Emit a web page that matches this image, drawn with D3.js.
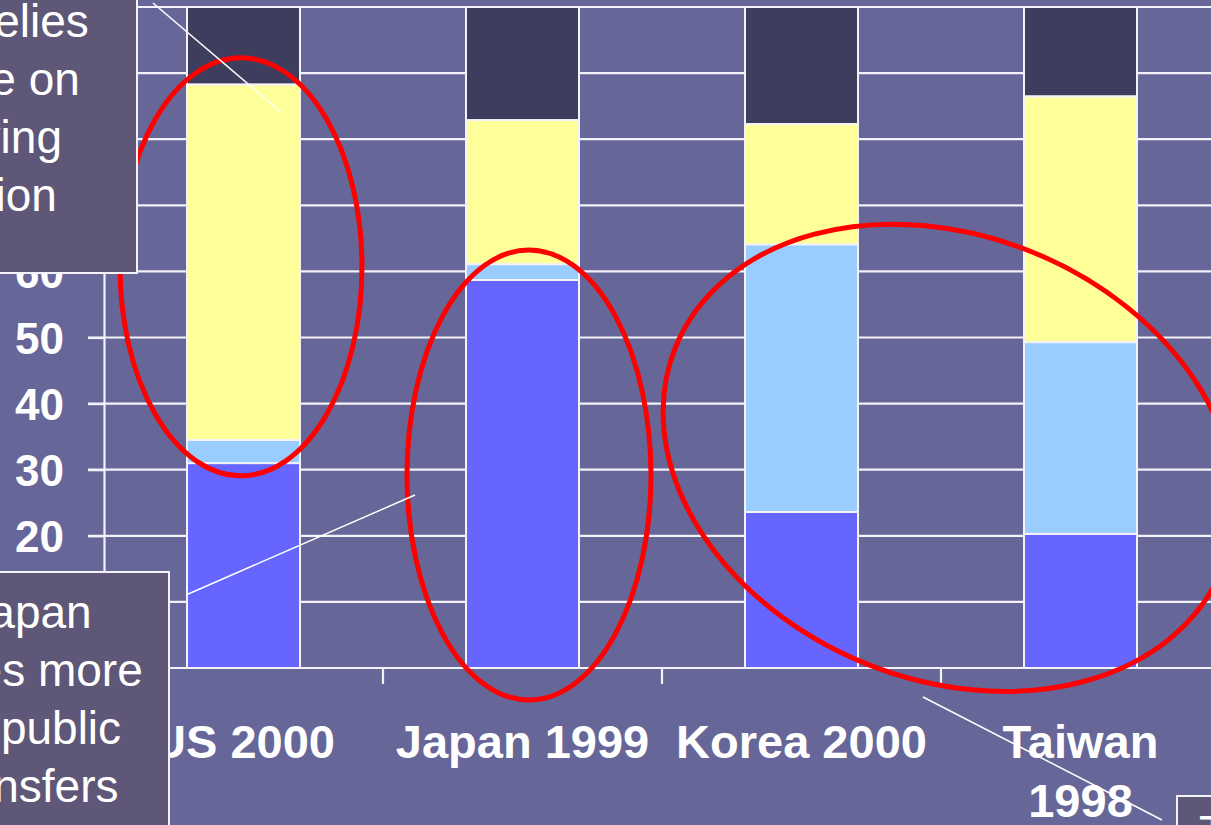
<!DOCTYPE html>
<html>
<head>
<meta charset="utf-8">
<script src="https://cdn.jsdelivr.net/npm/d3@7"></script>
<style>
  html, body { margin: 0; padding: 0; background: #666699; overflow: hidden; }
  svg { display: block; font-family: "Liberation Sans", Arial, sans-serif; }
</style>
</head>
<body>
<svg id="chart" width="1211" height="825"></svg>
<script>
// Share of old-age consumption funded by each source (%)
const categories = ["US 2000", "Japan 1999", "Korea 2000", "Taiwan 1998"];
const categoryLines = [["US 2000"], ["Japan 1999"], ["Korea 2000"], ["Taiwan", "1998"]];
const publicTransfers   = [31.0, 58.7, 23.6, 20.3];
const familyTransfers   = [3.5, 2.4, 40.5, 29.0];
const assetReallocation = [53.8, 21.8, 18.2, 37.2];
const laborIncome       = [11.7, 17.1, 17.7, 13.5];
const yTicks = [0, 10, 20, 30, 40, 50, 60, 70, 80, 90, 100];

const seriesKeys = ["public", "family", "assets", "labor"];
const seriesColors = ["#6666FF", "#99CCFF", "#FFFF99", "#3F3D5E"];

// Callout notes
const noteUS = ["US relies", "more on", "saving", "action"];
const noteJapan = ["Japan", "relies more", "on public", "transfers"];
const noteTaiwan = ["Taiwan"];

const rows = categories.map((c, i) => ({
  category: c,
  public: publicTransfers[i],
  family: familyTransfers[i],
  assets: assetReallocation[i],
  labor: laborIncome[i]
}));

const svg = d3.select("#chart");
const W = 1211, H = 825;
const plotLeft = 104, plotTop = 7, plotBottom = 668, step = 279;

svg.append("rect").attr("width", W).attr("height", H).attr("fill", "#666699");

const x = d3.scaleBand()
  .domain(categories)
  .range([plotLeft, plotLeft + step * categories.length])
  .paddingInner(0.595)
  .paddingOuter(0.2975);
const y = d3.scaleLinear().domain([0, 100]).range([plotBottom, plotTop]);
const color = d3.scaleOrdinal().domain(seriesKeys).range(seriesColors);

const gridColor = "#f2f2f8";

// horizontal gridlines (extend left as tick marks)
svg.append("g").selectAll("line").data(yTicks).join("line")
  .attr("x1", plotLeft - 16).attr("x2", x.range()[1])
  .attr("y1", d => y(d)).attr("y2", d => y(d))
  .attr("stroke", gridColor).attr("stroke-width", 2.2);

// stacked bars
const stacked = d3.stack().keys(seriesKeys)(rows);
svg.append("g").selectAll("g").data(stacked).join("g")
  .attr("fill", d => color(d.key))
  .selectAll("rect").data(d => d).join("rect")
  .attr("x", d => x(d.data.category))
  .attr("width", x.bandwidth())
  .attr("y", d => y(d[1]))
  .attr("height", d => y(d[0]) - y(d[1]))
  .attr("stroke", gridColor).attr("stroke-width", 2);

// y axis
const yAxis = d3.axisLeft(y).tickValues(yTicks).tickSize(16).tickSizeOuter(0).tickPadding(24);
const gy = svg.append("g").attr("transform", `translate(${plotLeft},0)`).call(yAxis);
gy.select(".domain").attr("stroke", gridColor).attr("stroke-width", 2.2);
gy.selectAll(".tick line").attr("stroke", gridColor).attr("stroke-width", 2.2);
gy.selectAll(".tick text")
  .attr("fill", "#ffffff")
  .attr("font-size", 44).attr("font-weight", "bold")
  .attr("font-family", "'Liberation Sans', Arial, sans-serif")
  .attr("dy", "0.36em");

// x axis line and category boundary ticks
svg.append("line")
  .attr("x1", plotLeft).attr("x2", x.range()[1])
  .attr("y1", plotBottom).attr("y2", plotBottom)
  .attr("stroke", gridColor).attr("stroke-width", 2.2);
svg.append("g").selectAll("line").data(d3.range(1, categories.length)).join("line")
  .attr("x1", i => plotLeft + i * x.step()).attr("x2", i => plotLeft + i * x.step())
  .attr("y1", plotBottom).attr("y2", plotBottom + 16)
  .attr("stroke", gridColor).attr("stroke-width", 2.2);

// category labels
const xl = svg.append("g").selectAll("text").data(categories).join("text")
  .attr("x", d => x(d) + x.bandwidth() / 2)
  .attr("y", 758)
  .attr("text-anchor", "middle")
  .attr("fill", "#ffffff")
  .attr("font-size", 47).attr("font-weight", "bold");
xl.selectAll("tspan").data((d, i) => categoryLines[i]).join("tspan")
  .attr("x", function () { return d3.select(this.parentNode).attr("x"); })
  .attr("dy", (d, i) => i === 0 ? 0 : 59)
  .text(d => d);

// red highlight ellipses
const ellipses = [
  { cx: x("US 2000") + x.bandwidth() / 2 - 2.5, cy: y(60.7), rx: 121, ry: 209, rot: 0 },
  { cx: x("Japan 1999") + x.bandwidth() / 2 + 6.5, cy: y(29.2), rx: 122, ry: 225, rot: 0 },
  { cx: (x("Korea 2000") + x("Taiwan 1998")) / 2 + x.bandwidth() / 2 + 8, cy: y(31.8), rx: 295, ry: 222, rot: 22 }
];
svg.append("g").selectAll("ellipse").data(ellipses).join("ellipse")
  .attr("cx", 0).attr("cy", 0)
  .attr("rx", d => d.rx).attr("ry", d => d.ry)
  .attr("transform", d => `translate(${d.cx},${d.cy}) rotate(${d.rot})`)
  .attr("fill", "none").attr("stroke", "#FF0000").attr("stroke-width", 5);

// callout boxes with leader lines
const boxFill = "#5E5777";
function callout(bx, by, bw, bh, lines, firstBaseline, lineGap, anchor) {
  const g = svg.append("g");
  g.append("rect").attr("x", bx).attr("y", by).attr("width", bw).attr("height", bh)
    .attr("fill", boxFill).attr("stroke", gridColor).attr("stroke-width", 2);
  const tx = anchor === "start" ? bx + 22 : bx + bw / 2;
  g.selectAll("text").data(lines).join("text")
    .attr("x", tx)
    .attr("y", (d, i) => firstBaseline + i * lineGap)
    .attr("text-anchor", anchor)
    .attr("fill", "#ffffff")
    .attr("font-size", 46)
    .text(d => d);
}
callout(-146, -40, 283, 313, noteUS, 37, 58, "middle");
callout(-111, 572, 280, 300, noteJapan, 628, 58, "middle");
callout(1177, 796, 260, 200, noteTaiwan, 848, 58, "start");

const leaders = [
  [[153, 3], [282, 113]],
  [[186, 595], [415, 495]],
  [[923, 697], [1162, 820]]
];
svg.append("g").selectAll("line").data(leaders).join("line")
  .attr("x1", d => d[0][0]).attr("y1", d => d[0][1])
  .attr("x2", d => d[1][0]).attr("y2", d => d[1][1])
  .attr("stroke", "#ffffff").attr("stroke-width", 1.5);
</script>
</body>
</html>
